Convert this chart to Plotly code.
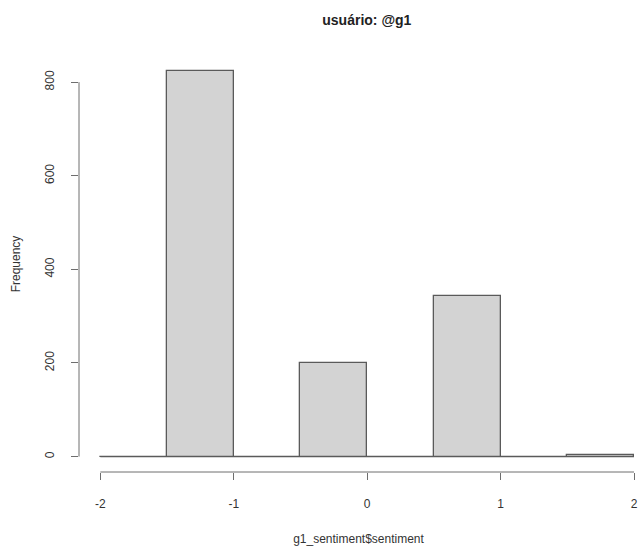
import plotly.graph_objects as go

# histogram data (bin edges and counts)
bin_edges = [-2.0, -1.5, -1.0, -0.5, 0.0, 0.5, 1.0, 1.5, 2.0]
counts = [0, 823, 0, 200, 0, 343, 0, 3]
x_ticks = [-2, -1, 0, 1, 2]
y_ticks = [0, 200, 400, 600, 800]

title_text = "usuário: @g1"
x_title = "g1_sentiment$sentiment"
y_title = "Frequency"

centers = [(a + b) / 2 for a, b in zip(bin_edges[:-1], bin_edges[1:])]
widths = [b - a for a, b in zip(bin_edges[:-1], bin_edges[1:])]

line_col = "#5a5a5a"
axis_col = "#6e6e6e"
text_col = "#333333"
font_fam = "Liberation Sans, Arial, sans-serif"

fig = go.Figure()
fig.add_trace(go.Bar(
    x=centers, y=counts, width=widths,
    marker=dict(color="#d3d3d3", line=dict(color=line_col, width=1.3)),
    hoverinfo="x+y",
))
# zero-height bins drawn as flat line along baseline (as R does)
fig.add_trace(go.Scatter(
    x=[bin_edges[0], bin_edges[-1]], y=[0, 0], mode="lines",
    line=dict(color=line_col, width=1.3), hoverinfo="skip",
))

ymax = max(counts)
ypad = ymax * 0.04

fig.update_layout(
    width=638, height=546,
    margin=dict(l=79, r=0, t=56, b=74),
    paper_bgcolor="white", plot_bgcolor="white",
    showlegend=False,
    bargap=0,
    font=dict(family=font_fam, color=text_col, size=12),
    title=dict(text="<b>" + title_text + "</b>", x=0.575, xref="container",
               xanchor="center", y=0.963, yanchor="middle",
               font=dict(size=14, color="#222222", family=font_fam)),
    xaxis=dict(
        range=[bin_edges[0] - 0.16, 2.03],
        automargin=False,
        tickmode="array", tickvals=x_ticks, ticktext=[str(v) for v in x_ticks],
        ticks="outside", ticklen=7, tickcolor=axis_col, tickwidth=1,
        ticklabeloverflow="allow", ticklabelstandoff=14,
        showgrid=False, zeroline=False, showline=False,
        tickfont=dict(size=12, color=text_col),
        title=dict(text=x_title, font=dict(size=12, color=text_col), standoff=32),
    ),
    yaxis=dict(
        range=[-ypad, ymax + ypad],
        automargin=False,
        tickmode="array", tickvals=y_ticks, ticktext=[str(v) for v in y_ticks],
        ticks="outside", ticklen=7, tickcolor=axis_col, tickwidth=1,
        tickangle=-90, ticklabelstandoff=12,
        showgrid=False, zeroline=False, showline=False,
        tickfont=dict(size=12, color=text_col),
        title=dict(text=y_title, font=dict(size=12, color=text_col), standoff=20),
    ),
)

# R-style detached axis lines spanning first to last tick
fig.add_shape(type="line", xref="x", yref="paper",
              x0=x_ticks[0], x1=x_ticks[-1], y0=0, y1=0,
              line=dict(color=axis_col, width=1))
fig.add_shape(type="line", xref="paper", yref="y",
              x0=0, x1=0, y0=y_ticks[0], y1=y_ticks[-1],
              line=dict(color=axis_col, width=1))

fig.write_html(
    "out.html",
    config={"displayModeBar": False},
    post_script="document.body.style.margin='0';document.body.style.overflow='hidden';",
)
